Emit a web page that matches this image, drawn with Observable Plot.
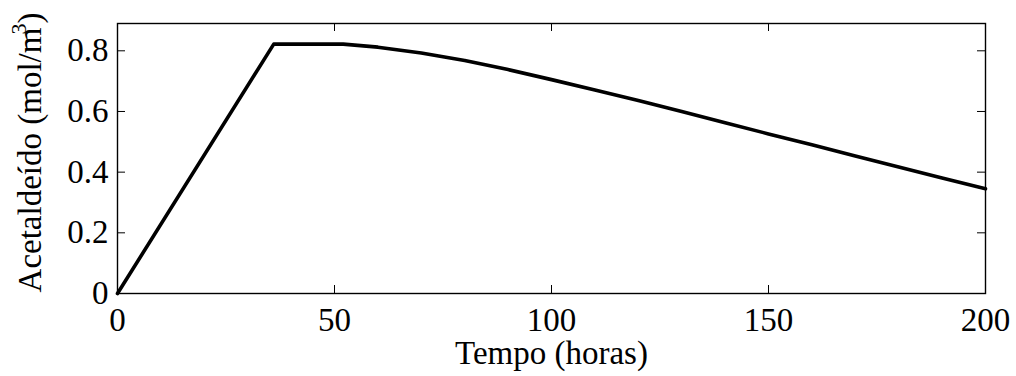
<!DOCTYPE html>
<html>
<head>
<meta charset="utf-8">
<script src="https://cdn.jsdelivr.net/npm/d3@7"></script>
<script src="https://cdn.jsdelivr.net/npm/@observablehq/plot@0.6"></script>
<style>
  html, body { margin: 0; padding: 0; background: white; }
</style>
</head>
<body>
<div id="chart"></div>
<script>
// Data
const tempo = [0, 36, 52, 60, 70, 80, 90, 100, 110, 120, 130, 140, 150, 160, 170, 180, 190, 200];
const acetaldeido = [0, 0.822, 0.822, 0.812, 0.793, 0.768, 0.738, 0.705, 0.671, 0.636, 0.600, 0.563, 0.526, 0.490, 0.453, 0.417, 0.381, 0.345];
const xTicks = [0, 50, 100, 150, 200];
const yTicks = [0, 0.2, 0.4, 0.6, 0.8];
const xLabel = "Tempo (horas)";
const yLabel = "Acetaldeído (mol/m3)";

const data = tempo.map((t, i) => ({t, c: acetaldeido[i]}));

const W = 1016, H = 376;
const mL = 117, mR = 31, mT = 23, mB = 83;
const pw = W - mL - mR, ph = H - mT - mB;
const tick = 8;

const chart = Plot.plot({
  width: W,
  height: H,
  marginLeft: mL,
  marginRight: mR,
  marginTop: mT,
  marginBottom: mB,
  style: {fontFamily: "'Liberation Serif', 'Times New Roman', serif", fontSize: "33px", background: "white", color: "black"},
  x: {domain: [0, 200]},
  y: {domain: [0, 0.89]},
  marks: [
    Plot.line(data, {x: "t", y: "c", stroke: "black", strokeWidth: 3.6}),
    // inward ticks on all four sides
    Plot.tickX(xTicks, {x: d => d, stroke: "black", strokeWidth: 1, insetTop: ph - tick}),
    Plot.tickX(xTicks, {x: d => d, stroke: "black", strokeWidth: 1, insetBottom: ph - tick}),
    Plot.tickY(yTicks, {y: d => d, stroke: "black", strokeWidth: 1, insetRight: pw - tick}),
    Plot.tickY(yTicks, {y: d => d, stroke: "black", strokeWidth: 1, insetLeft: pw - tick}),
    Plot.frame({stroke: "black", strokeWidth: 1.4}),
    Plot.axisX({ticks: xTicks, tickSize: 0, tickPadding: 14, tickFormat: d => String(d), label: null, fontSize: 33}),
    Plot.axisY({ticks: yTicks, tickSize: 0, tickPadding: 9, tickFormat: d => String(d), label: null, fontSize: 33}),
    Plot.text([xLabel], {text: d => d, frameAnchor: "bottom", lineAnchor: "bottom", textAnchor: "middle", dy: 70, fontSize: 33, fill: "black"}),
    Plot.text([yLabel], {text: d => d, frameAnchor: "left", lineAnchor: "bottom", textAnchor: "middle", rotate: -90, dx: -77, dy: -6, fontSize: 33, fill: "black"})
  ]
});

// superscript 3 in the y label
d3.select(chart).selectAll("text").each(function() {
  if (this.textContent === yLabel) {
    const sel = d3.select(this);
    sel.text(null);
    sel.append("tspan").text("Acetaldeído (mol/m");
    sel.append("tspan").attr("font-size", "22px").attr("dx", "-7").attr("dy", "-15").text("3");
    sel.append("tspan").attr("dy", "15").text(")");
  }
});

document.getElementById("chart").appendChild(chart);
</script>
</body>
</html>
